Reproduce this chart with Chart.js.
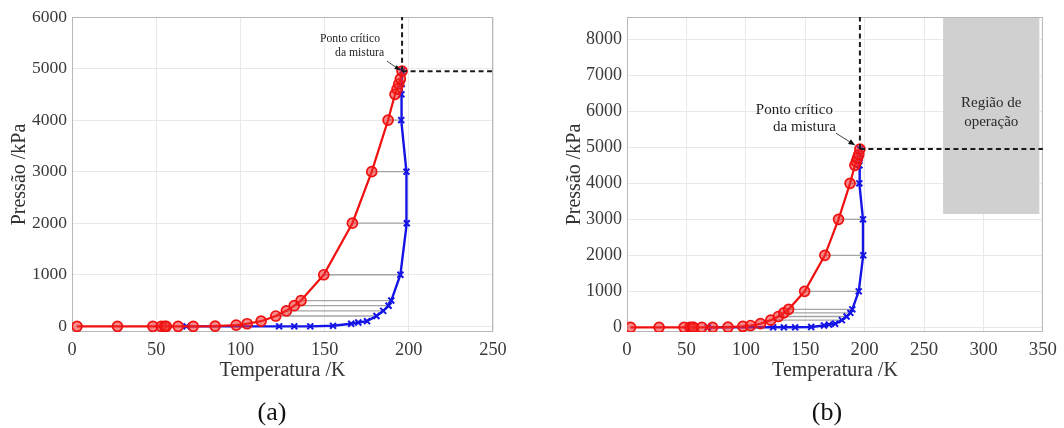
<!DOCTYPE html>
<html>
<head>
<meta charset="utf-8">
<script src="https://cdn.jsdelivr.net/npm/chart.js@4.4.1/dist/chart.umd.min.js"></script>
<style>
  html, body { margin: 0; padding: 0; background: #fff; }
  body { width: 1064px; height: 428px; position: relative; overflow: hidden; }
  .panel { position: absolute; top: 0; height: 428px; }
  .cap { position: absolute; top: 397px; font-family: 'Liberation Serif', 'Times New Roman', serif;
         font-size: 26px; color: #111; transform: translateX(-50%); line-height: 30px; }
</style>
</head>
<body>
<div class="panel" style="left:0;width:520px"><canvas id="chartA"></canvas></div>
<div class="panel" style="left:540px;width:524px"><canvas id="chartB"></canvas></div>
<div class="cap" style="left:272px">(a)</div>
<div class="cap" style="left:827px">(b)</div>
<script>
// Bubble curve of the mixture: temperature (K) and pressure (kPa)
const bubbleT = [3, 27, 48, 53, 55, 56, 63, 72, 85, 97.5, 104, 112.3, 121, 127.3, 132, 136, 149.5, 166.5, 178, 187.7, 191.8, 193, 194, 195, 196];
const bubbleP = [0, 0, 0, 0, 0, 0, 0, 0, 5, 25, 50, 100, 200, 300, 400, 500, 1000, 2000, 3000, 4000, 4500, 4600, 4700, 4800, 4950];

// Dew curve of the mixture
const dewT = [68, 123, 132, 141.5, 155, 165.8, 170, 175.2, 180.8, 184.8, 188, 189.6, 195, 198.8, 198.6, 195.5, 195.6, 195.8, 196];
const dewP = [0, 0, 0, 0, 10, 50, 75, 100, 200, 300, 400, 500, 1000, 2000, 3000, 4000, 4500, 4700, 4950];

// Pressures where liquid/vapour tie lines are drawn
const tieP = [200, 300, 400, 500, 1000, 2000, 3000, 4000];

// Critical point of the mixture [T, P]
const critical = [196, 4950];

// Operating region (panel b): temperature range and pressure range
const regionT = [266, 347];
const regionP = [3150, 8620];

// Axis ticks and limits
const xTicksA = [0, 50, 100, 150, 200, 250];
const yTicksA = [0, 1000, 2000, 3000, 4000, 5000, 6000];
const xLimA = [0, 250];
const yLimA = [-110, 6000];

const xTicksB = [0, 50, 100, 150, 200, 250, 300, 350];
const yTicksB = [0, 1000, 2000, 3000, 4000, 5000, 6000, 7000, 8000];
const xLimB = [0, 350];
const yLimB = [-130, 8620];

const SERIF = "'Liberation Serif', 'Times New Roman', serif";
const RED = '#f01010';
const BLUE = '#1414e6';

function pts(xs, ys) { return xs.map((x, i) => ({ x: x, y: ys[i] })); }

function tieDatasets() {
  return tieP.map(p => {
    const tb = bubbleT[bubbleP.indexOf(p)];
    const td = dewT[dewP.indexOf(p)];
    return {
      data: [{ x: tb, y: p }, { x: td, y: p }],
      showLine: true, borderColor: '#a4a4a4', borderWidth: 1.3,
      pointRadius: 0, order: 3
    };
  });
}

// Frame, shaded region and critical-point note
const decor = {
  id: 'decor',
  beforeDatasetsDraw(chart, args, o) {
    const { ctx, chartArea: a, scales: { x, y } } = chart;
    ctx.save();
    if (o.region) {
      const x0 = x.getPixelForValue(regionT[0]), x1 = x.getPixelForValue(regionT[1]);
      const y0 = y.getPixelForValue(regionP[1]), y1 = y.getPixelForValue(regionP[0]);
      ctx.fillStyle = '#d0d0d0';
      ctx.fillRect(x0, y0, x1 - x0, y1 - y0);
      ctx.fillStyle = '#2a2a2a';
      ctx.font = o.region.size + 'px ' + SERIF;
      ctx.textAlign = 'center';
      ctx.textBaseline = 'middle';
      const cx = (x0 + x1) / 2;
      ctx.fillText('Região de', cx, y0 + o.region.dy1);
      ctx.fillText('operação', cx, y0 + o.region.dy2);
    }
    ctx.strokeStyle = '#b8b8b8';
    ctx.lineWidth = 1;
    ctx.strokeRect(a.left + 0.5, a.top + 0.5, a.width - 1, a.height - 1);
    ctx.restore();
  },
  afterDatasetsDraw(chart, args, o) {
    const { ctx, scales: { x, y } } = chart;
    const n = o.note;
    const cx = x.getPixelForValue(critical[0]);
    const cy = y.getPixelForValue(critical[1]);
    ctx.save();
    ctx.fillStyle = '#1e1e1e';
    ctx.font = n.size + 'px ' + SERIF;
    ctx.textAlign = 'right';
    ctx.textBaseline = 'middle';
    ctx.fillText('Ponto crítico', cx + n.l1[0], cy + n.l1[1]);
    ctx.fillText('da mistura', cx + n.l2[0], cy + n.l2[1]);
    // arrow
    const tx = cx + n.tail[0], ty = cy + n.tail[1];
    const hx = cx + n.tip[0], hy = cy + n.tip[1];
    ctx.strokeStyle = '#444';
    ctx.lineWidth = 1;
    ctx.beginPath(); ctx.moveTo(tx, ty); ctx.lineTo(hx, hy); ctx.stroke();
    const ang = Math.atan2(hy - ty, hx - tx), L = n.head;
    ctx.fillStyle = '#111';
    ctx.beginPath();
    ctx.moveTo(hx, hy);
    ctx.lineTo(hx - L * Math.cos(ang - 0.4), hy - L * Math.sin(ang - 0.4));
    ctx.lineTo(hx - L * Math.cos(ang + 0.4), hy - L * Math.sin(ang + 0.4));
    ctx.closePath(); ctx.fill();
    ctx.restore();
  }
};

function makeChart(id, cfg) {
  const dashed = {
    showLine: true, borderColor: '#1a1a1a', borderWidth: 2, borderDash: [5, 3.5],
    pointRadius: 0, order: 0, clip: false
  };
  const datasets = [
    Object.assign({ data: [{ x: critical[0], y: critical[1] }, { x: critical[0], y: cfg.yLim[1] }] }, dashed),
    Object.assign({ data: [{ x: critical[0], y: critical[1] }, { x: cfg.xLim[1], y: critical[1] }] }, dashed),
    {
      data: pts(bubbleT, bubbleP), showLine: true, borderColor: RED, borderWidth: 2.2,
      pointStyle: 'circle', pointRadius: 5, pointBorderWidth: 1.7,
      pointBorderColor: RED, pointBackgroundColor: 'rgba(240,40,40,0.55)', order: 1
    },
    {
      data: pts(dewT, dewP), showLine: true, borderColor: BLUE, borderWidth: 2.4,
      pointStyle: 'crossRot', pointRadius: 4.2, pointBorderWidth: 2,
      pointBorderColor: BLUE, order: 2
    }
  ].concat(tieDatasets());

  const tickFont = { family: SERIF, size: cfg.tickSize };
  const titleFont = { family: SERIF, size: 20 };

  return new Chart(document.getElementById(id), {
    type: 'scatter',
    data: { datasets: datasets },
    plugins: [decor],
    options: {
      responsive: true, maintainAspectRatio: false, animation: false,
      layout: { padding: { left: 0, top: 17, right: cfg.padRight, bottom: 0 } },
      plugins: {
        legend: { display: false }, tooltip: { enabled: false },
        decor: { region: cfg.region, note: cfg.note }
      },
      scales: {
        x: {
          type: 'linear', min: cfg.xLim[0], max: cfg.xLim[1],
          afterBuildTicks: s => { s.ticks = cfg.xTicks.map(v => ({ value: v })); },
          afterFit: s => { s.height = 96; },
          ticks: { font: { family: SERIF, size: cfg.tickSize + 0.8 }, color: '#3a3a3a', padding: 7, maxRotation: 0, callback: v => String(v) },
          grid: { color: '#e9e9e9', drawTicks: false, lineWidth: 1 },
          border: { display: false },
          title: { display: true, text: 'Temperatura /K', font: titleFont, color: '#333',
                   padding: { top: 0, bottom: 45 } }
        },
        y: {
          type: 'linear', min: cfg.yLim[0], max: cfg.yLim[1],
          afterBuildTicks: s => { s.ticks = cfg.yTicks.map(v => ({ value: v })); },
          afterFit: s => { s.width = cfg.yWidth; },
          ticks: { font: tickFont, color: '#3a3a3a', padding: 5, callback: v => String(v) },
          grid: { color: '#e9e9e9', drawTicks: false, lineWidth: 1 },
          border: { display: false },
          title: { display: true, text: 'Pressão /kPa', font: titleFont, color: '#333',
                   padding: { top: cfg.yTitlePad, bottom: 0 } }
        }
      }
    }
  });
}

makeChart('chartA', {
  xLim: xLimA, yLim: yLimA, xTicks: xTicksA, yTicks: yTicksA,
  padRight: 27, yWidth: 72, yTitlePad: 8, tickSize: 17.5,
  region: null,
  note: { size: 11.7, l1: [-22, -32], l2: [-18, -18], tail: [-15, -10], tip: [-2, -1], head: 6 }
});

makeChart('chartB', {
  xLim: xLimB, yLim: yLimB, xTicks: xTicksB, yTicks: yTicksB,
  padRight: 17, yWidth: 87, yTitlePad: 23, tickSize: 18,
  region: { size: 15, dy1: 86, dy2: 105 },
  note: { size: 15, l1: [-27, -39], l2: [-24, -22], tail: [-24, -16], tip: [-5, -4], head: 7 }
});
</script>
</body>
</html>
